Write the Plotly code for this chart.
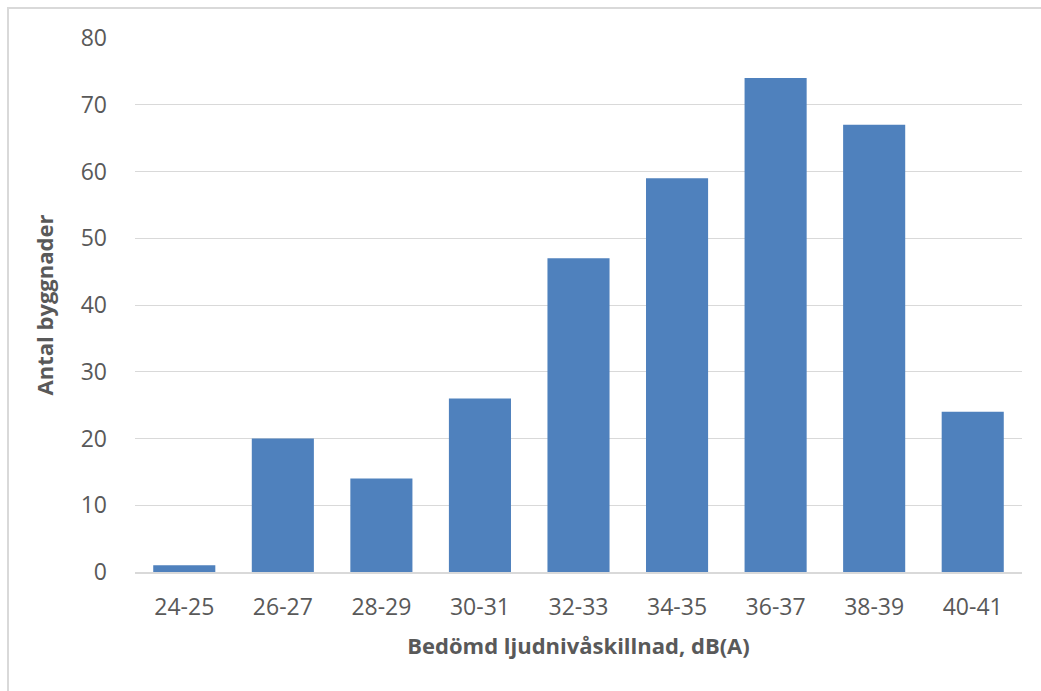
import plotly.graph_objects as go

categories = ["24-25", "26-27", "28-29", "30-31", "32-33", "34-35", "36-37", "38-39", "40-41"]
counts = [1, 20, 14, 26, 47, 59, 74, 67, 24]
y_ticks = [0, 10, 20, 30, 40, 50, 60, 70, 80]

W, H = 1041, 691
L, R, T, B = 135, 19, 38, 119
pw, ph = W - L - R, H - T - B

fig = go.Figure(go.Bar(x=categories, y=counts, marker_color="#4F81BD",
                       marker_line_width=0))

font_family = "Open Sans, Liberation Sans, sans-serif"
text_color = "#595959"
fig.update_layout(
    width=W, height=H,
    margin=dict(l=L, r=R, t=T, b=B, pad=0),
    paper_bgcolor="white", plot_bgcolor="white",
    bargap=0.37,
    showlegend=False,
    font=dict(family=font_family, color=text_color, size=23),
    xaxis=dict(
        showgrid=False, showline=True, linecolor="#D9D9D9", linewidth=1.5,
        ticks="", ticklabelstandoff=14,
        tickfont=dict(size=23, color=text_color),
        title=dict(text="<b>Bedömd ljudnivåskillnad, dB(A)</b>",
                   font=dict(size=22, color=text_color), standoff=17),
    ),
    yaxis=dict(
        range=[0, 80], tickvals=y_ticks, showgrid=True, gridcolor="#D9D9D9",
        gridwidth=1, zeroline=False, showline=False, ticks="",
        ticklabelstandoff=27,
        tickfont=dict(size=23, color=text_color),
        title=dict(text="<b>Antal byggnader</b>",
                   font=dict(size=22, color=text_color), standoff=20),
    ),
    shapes=[dict(
        type="rect", xref="paper", yref="paper",
        x0=(8 - L) / pw, x1=(W + 10 - L) / pw,
        y0=(-10 - B) / ph, y1=(H - 8 - B) / ph,
        line=dict(color="#D9D9D9", width=2), fillcolor="rgba(0,0,0,0)",
        layer="below",
    )],
)

fig.write_html("out.html")
